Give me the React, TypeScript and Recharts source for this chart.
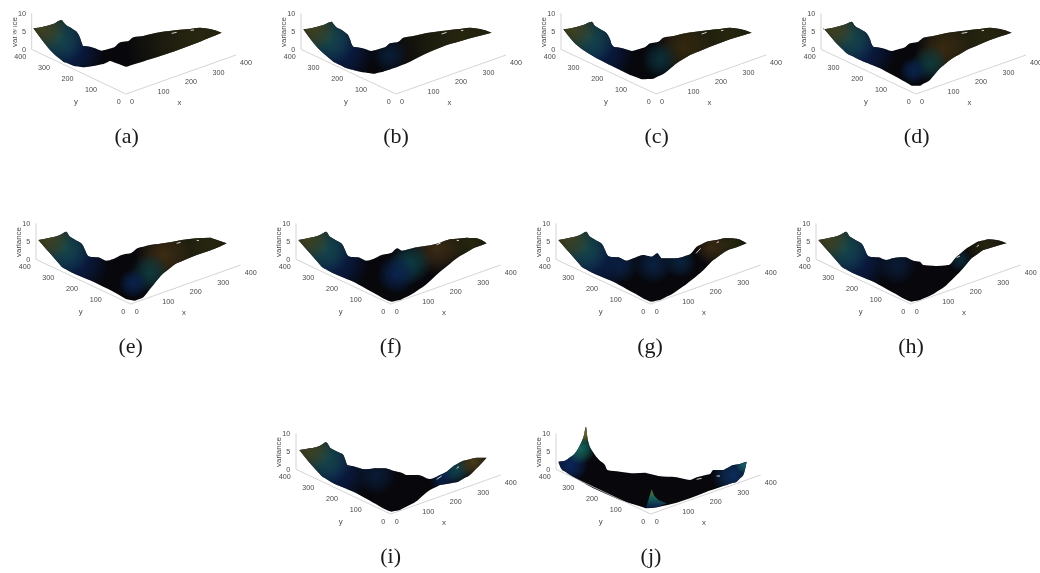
import React from "react";
import { ComposedChart, Area, Line, XAxis, YAxis } from "recharts";

type P = [number, number];
type Blob = [number, number, number, string];

const xyTicks = [0, 100, 200, 300, 400];
const zTicks = [0, 5, 10];

// silhouette edges (panel units: 1/3 px)
const aTop: P[] = [[100,85],[130,80],[160,72],[185,60],[195,72],[215,85],[232,98],[240,113],[245,128],[250,138],[270,140],[285,145],[305,152],[325,147],[345,140],[358,128],[385,123],[400,112],[430,108],[470,98],[515,92],[560,88],[600,83],[630,87],[665,98]];
const aBottom: P[] = [[100,85],[130,125],[160,160],[190,185],[220,197],[250,202],[280,198],[310,192],[330,183],[380,200],[450,178],[520,155],[600,125],[665,98]];
const bTop: P[] = [[130,88],[160,83],[190,75],[215,65],[225,78],[245,90],[262,103],[270,118],[275,133],[282,141],[300,143],[315,147],[335,153],[355,148],[375,142],[390,130],[415,125],[430,113],[460,108],[500,99],[545,93],[590,88],[630,83],[660,87],[695,98]];
const bBottom: P[] = [[130,88],[160,128],[190,160],[220,185],[260,205],[300,215],[340,221],[370,215],[400,205],[440,190],[500,160],[560,135],[630,115],[695,98]];
const cBottom: P[] = [[130,88],[160,125],[190,150],[230,175],[280,200],[330,225],[365,238],[395,237],[430,222],[470,190],[510,165],[570,140],[630,118],[695,98]];
const dBottom: P[] = [[133,88],[165,125],[200,160],[240,180],[300,205],[360,237],[395,257],[420,257],[450,240],[480,205],[510,180],[560,150],[630,120],[695,98]];
const eTop: P[] = [[115,90],[150,83],[180,75],[198,65],[210,80],[230,92],[248,105],[255,120],[262,135],[270,140],[295,142],[318,152],[340,147],[365,135],[395,128],[412,115],[450,105],[500,98],[545,90],[590,85],[630,83],[680,100]];
const eBottom: P[] = [[115,90],[150,130],[185,170],[220,190],[280,215],[340,245],[380,268],[405,272],[430,262],[460,225],[490,190],[530,160],[590,135],[640,118],[680,100]];
const fTop: P[] = [[115,90],[150,83],[180,75],[198,65],[210,80],[230,92],[248,105],[255,120],[262,135],[270,140],[295,142],[318,152],[340,147],[365,135],[395,128],[412,115],[425,122],[470,112],[515,105],[540,98],[570,88],[620,83],[650,85],[680,100]];
const fBottom: P[] = [[115,90],[150,130],[185,170],[220,190],[280,215],[340,248],[375,268],[395,275],[420,270],[460,250],[500,222],[540,185],[590,145],[640,115],[680,100]];
const gTop: P[] = [[115,90],[150,83],[180,75],[198,65],[210,80],[230,92],[248,105],[255,120],[262,135],[270,140],[295,142],[318,152],[345,143],[370,135],[395,140],[412,130],[425,145],[460,145],[490,140],[510,133],[530,110],[560,95],[590,90],[620,84],[650,86],[680,100]];
const gBottom: P[] = [[115,90],[150,130],[185,170],[220,190],[280,215],[340,248],[375,268],[395,275],[420,270],[460,250],[500,222],[540,190],[580,150],[620,122],[650,112],[680,100]];
const hTop: P[] = [[115,90],[150,83],[180,75],[198,65],[210,80],[230,92],[248,105],[255,120],[262,135],[270,140],[295,142],[318,150],[345,143],[375,142],[400,152],[420,155],[430,165],[470,168],[505,165],[530,140],[560,115],[590,97],[625,88],[650,90],[680,100]];
const hBottom: P[] = [[115,90],[150,130],[185,170],[220,190],[280,215],[340,248],[375,268],[395,275],[420,270],[460,252],[500,225],[540,185],[575,145],[610,120],[650,108],[680,100]];
const iTop: P[] = [[118,90],[150,85],[180,77],[198,67],[212,85],[235,97],[250,105],[256,120],[262,135],[285,140],[315,148],[345,145],[375,145],[400,152],[425,158],[440,165],[475,165],[510,177],[530,170],[560,155],[585,135],[610,122],[650,113],[680,113]];
const iBottom: P[] = [[118,90],[150,130],[185,168],[220,190],[280,215],[340,248],[375,268],[395,275],[420,270],[470,243],[510,210],[540,195],[590,187],[630,165],[660,135],[680,113]];
const jTop: P[] = [[115,125],[135,122],[160,105],[180,75],[192,45],[198,20],[202,50],[212,85],[225,105],[240,122],[255,135],[262,150],[300,155],[345,160],[375,158],[415,168],[470,172],[510,180],[530,172],[570,162],[580,150],[610,150],[640,135],[660,132],[680,125]];
const jBottom: P[] = [[115,125],[125,148],[150,165],[220,205],[300,240],[378,265],[410,262],[470,248],[510,235],[560,215],[620,195],[650,185],[670,165],[680,125]];
const jSpikeTop: P[] = [[378,264],[385,240],[395,208],[403,228],[415,240],[440,250]];
const jSpikeBottom: P[] = [[378,264],[410,262],[440,250]];

const leftBlobs = (L: number): Blob[] => [
  [L + 105, 150, 110, "#0a2050"],
  [L + 75, 112, 85, "#174a4c"],
  [L + 25, 80, 75, "#45431e"],
];

const aBlobs: Blob[] = [...leftBlobs(100), [600, 110, 230, "#2a2910"]];
const bBlobs: Blob[] = [...leftBlobs(130), [610, 110, 220, "#28280f"], [390, 165, 55, "#0a1e38"]];
const cBlobs: Blob[] = [...leftBlobs(130), [620, 110, 190, "#28280f"], [490, 140, 85, "#35290f"], [420, 178, 55, "#0c303a"]];
const dBlobs: Blob[] = [...leftBlobs(133), [620, 110, 180, "#28280f"], [490, 145, 85, "#3a2b12"], [450, 190, 55, "#0f3c3e"], [400, 212, 42, "#0a2450"]];
const eBlobs: Blob[] = [...leftBlobs(115), [620, 105, 170, "#28280f"], [490, 135, 85, "#3e2d14"], [450, 190, 60, "#0f3c40"], [400, 220, 45, "#0a2450"]];
const fBlobs: Blob[] = [...leftBlobs(115), [630, 95, 100, "#28280f"], [530, 115, 80, "#3e2d15"], [450, 160, 65, "#0f4046"], [410, 192, 60, "#0a2450"]];
const gBlobs: Blob[] = [...leftBlobs(115), [630, 100, 75, "#28280f"], [575, 112, 55, "#3a2a14"], [300, 162, 60, "#0a1f42"], [400, 162, 60, "#0a2244"], [480, 155, 50, "#0a2440"]];
const hBlobs: Blob[] = [...leftBlobs(115), [620, 105, 75, "#28260f"], [540, 150, 35, "#0c2a38"], [350, 165, 60, "#0a1c38"]];
const iBlobs: Blob[] = [...leftBlobs(118), [550, 170, 45, "#0a2450"], [590, 148, 45, "#114550"], [640, 125, 50, "#4c4018"], [350, 165, 60, "#0a1c38"]];
const jBlobs: Blob[] = [[150, 135, 55, "#0c2860"], [180, 85, 48, "#176a62"], [196, 38, 30, "#7a6c2a"], [640, 165, 65, "#0c3060"], [672, 135, 25, "#176068"]];

type AxisGeom = { o: P; xEnd: P; yEnd: P };
const axesA: AxisGeom = { o: [378, 282], xEnd: [708, 165], yEnd: [95, 148] };
const axesB: AxisGeom = { o: [408, 282], xEnd: [738, 165], yEnd: [123, 148] };
const axesE: AxisGeom = { o: [392, 282], xEnd: [722, 165], yEnd: [108, 148] };

type PanelDef = {
  letter: string; left: number; top: number; capX: number; axes: AxisGeom;
  upper: P[]; lower: P[]; blobs: Blob[]; specks: P[][];
  spike?: [P[], P[]];
};

const panels: PanelDef[] = [
  { letter: "(a)", left: 0, top: 0, capX: 380, axes: axesA, upper: aTop, lower: aBottom, blobs: aBlobs, specks: [[[515,100],[530,97]],[[572,91],[582,90]]] },
  { letter: "(b)", left: 260, top: 0, capX: 408, axes: axesB, upper: bTop, lower: bBottom, blobs: bBlobs, specks: [[[545,102],[560,97]],[[603,92],[610,91]]] },
  { letter: "(c)", left: 520, top: 0, capX: 410, axes: axesB, upper: bTop, lower: cBottom, blobs: cBlobs, specks: [[[545,102],[560,97]],[[603,92],[610,91]]] },
  { letter: "(d)", left: 780, top: 0, capX: 410, axes: axesB, upper: bTop, lower: dBottom, blobs: dBlobs, specks: [[[545,100],[562,97]],[[605,92],[612,91]]] },
  { letter: "(e)", left: 0, top: 210, capX: 392, axes: axesE, upper: eTop, lower: eBottom, blobs: eBlobs, specks: [[[530,100],[542,97]],[[590,91],[597,92]]] },
  { letter: "(f)", left: 260, top: 210, capX: 392, axes: axesE, upper: fTop, lower: fBottom, blobs: fBlobs, specks: [[[530,104],[542,99]],[[590,91],[597,92]]] },
  { letter: "(g)", left: 520, top: 210, capX: 390, axes: axesE, upper: gTop, lower: gBottom, blobs: gBlobs, specks: [[[528,130],[542,115]],[[590,98],[597,95]]] },
  { letter: "(h)", left: 780, top: 210, capX: 393, axes: axesE, upper: hTop, lower: hBottom, blobs: hBlobs, specks: [[[530,143],[540,138]],[[590,110],[597,105]]] },
  { letter: "(i)", left: 260, top: 420, capX: 392, axes: axesE, upper: iTop, lower: iBottom, blobs: iBlobs, specks: [[[530,178],[545,168]],[[590,145],[597,140]]] },
  { letter: "(j)", left: 520, top: 420, capX: 393, axes: axesE, upper: jTop, lower: jBottom, blobs: jBlobs, specks: [[[530,178],[545,175]],[[590,168],[600,168]]], spike: [jSpikeTop, jSpikeBottom] },
];

const W = 300, H = 190, DOMW = 900, DOMH = 570;
const TXT = "#4a4a4a";
const FONT = "'Liberation Sans', Arial, sans-serif";
const ZTOP = 40, ZZERO = 148;

// vertices of both edges at the union of their u positions: same polygon
const at = (pts: P[], u: number) => {
  for (let i = 1; i < pts.length; i++) {
    if (u <= pts[i][0]) {
      const [x0, y0] = pts[i - 1], [x1, y1] = pts[i];
      return y0 + ((u - x0) / (x1 - x0)) * (y1 - y0);
    }
  }
  return pts[pts.length - 1][1];
};
const band = (upper: P[], lower: P[]) => {
  const us = Array.from(new Set([...upper, ...lower].map((p) => p[0]))).sort((a, b) => a - b);
  return us.map((u) => ({ u, range: [at(lower, u), at(upper, u)] }));
};
const seg = (a: P, b: P, t: number, label: string) => ({ u: a[0] + (b[0] - a[0]) * t, v: a[1] + (b[1] - a[1]) * t, label });

const tickText = (dx: number, dy: number, anchor: "start" | "end" | "middle", fontSize = 7.2, fill = TXT, family = FONT, rotate = false) =>
  (p: any) => {
    const x = rotate ? Math.round(p.cx + dx / 3) : p.cx + dx / 3;
    const y = rotate ? Math.round(p.cy + dy / 3) : p.cy + dy / 3;
    return (
      <text key={p.index} x={x} y={y} textAnchor={anchor} dominantBaseline="central" fontSize={fontSize} fill={fill} fontFamily={family}
        transform={rotate ? `rotate(-90 ${x} ${y})` : undefined}>
        {p.payload.label}
      </text>
    );
  };

function Panel({ def, idx }: { def: PanelDef; idx: number }) {
  const { o, xEnd, yEnd } = def.axes;
  const data = band(def.upper, def.lower);
  const xAxis = xyTicks.map((t) => seg(o, xEnd, t / 400, String(t)));
  const yAxis = xyTicks.map((t) => seg(o, yEnd, t / 400, String(t)));
  const zAxis = zTicks.map((t) => ({ u: yEnd[0], v: ZZERO - (t / 10) * (ZZERO - ZTOP), label: String(t) }));
  const lineProps = { isAnimationActive: false, legendType: "none" as const, xAxisId: 0, yAxisId: 0, dataKey: "v" };
  const areaProps = { dataKey: "range", type: "monotoneX" as const, fillOpacity: 1, stroke: "none", isAnimationActive: false, legendType: "none" as const, dot: false, activeDot: false };
  return (
    <div style={{ position: "absolute", left: def.left, top: def.top, width: W, height: H, filter: "blur(0.45px)" }}>
      <ComposedChart width={W} height={H} margin={{ top: 0, right: 0, bottom: 0, left: 0 }}>
        <defs>
          {def.blobs.map((b, i) => (
            <radialGradient key={i} id={`g${idx}-${i}`} gradientUnits="userSpaceOnUse" cx={b[0] / 3} cy={b[1] / 3} r={b[2] / 3}>
              <stop offset="0" stopColor={b[3]} stopOpacity={0.95} />
              <stop offset="0.5" stopColor={b[3]} stopOpacity={0.6} />
              <stop offset="1" stopColor={b[3]} stopOpacity={0} />
            </radialGradient>
          ))}
          <linearGradient id={`s${idx}`} x1="0" y1="0" x2="0" y2="1">
            <stop offset="0" stopColor="#66702c" />
            <stop offset="0.45" stopColor="#186058" />
            <stop offset="1" stopColor="#0a1c48" />
          </linearGradient>
        </defs>
        <XAxis xAxisId={0} dataKey="u" type="number" domain={[0, DOMW]} hide allowDataOverflow />
        <YAxis yAxisId={0} type="number" domain={[0, DOMH]} reversed hide allowDataOverflow />
        <Line {...lineProps} data={xAxis} stroke="#c9c9c9" strokeWidth={0.8} dot={tickText(12, 22, "start")} />
        <Line {...lineProps} data={yAxis} stroke="#c9c9c9" strokeWidth={0.8} dot={tickText(-16, 21, "end")} />
        <Line {...lineProps} data={zAxis} stroke="#c9c9c9" strokeWidth={0.8} dot={tickText(-17, 0, "end")} />
        <Area {...areaProps} data={data} fill="#07070c" />
        {def.blobs.map((_, i) => (
          <Area key={i} {...areaProps} data={data} fill={`url(#g${idx}-${i})`} />
        ))}
        {def.spike && (
          <Area {...areaProps} type="linear" data={band(def.spike[0], def.spike[1])} fill={`url(#s${idx})`} />
        )}
        {def.specks.map((s, i) => (
          <Line key={i} {...lineProps} data={s.map((p) => ({ u: p[0], v: p[1] }))} stroke="#ffffff" strokeWidth={0.8} dot={false} />
        ))}
        <Line {...lineProps} data={[{ u: o[0] + 160, v: o[1] + 25, label: "x" }]} stroke="none" dot={tickText(0, 0, "middle", 7.8)} />
        <Line {...lineProps} data={[{ u: o[0] - 150, v: o[1] + 21, label: "y" }]} stroke="none" dot={tickText(0, 0, "middle", 7.8)} />
        <Line {...lineProps} data={[{ u: yEnd[0] - 54, v: 95, label: "variance" }]} stroke="none" dot={tickText(0, 0, "middle", 7.9, TXT, FONT, true)} />
        <Line {...lineProps} data={[{ u: def.capX, v: 407, label: def.letter }]} stroke="none" dot={tickText(0, 0, "middle", 22, "#1a1a1a", "'Liberation Serif', serif")} />
      </ComposedChart>
    </div>
  );
}

export default function App() {
  return (
    <div style={{ position: "absolute", left: 0, top: 0, width: 1040, height: 573, overflow: "hidden", background: "#fff" }}>
      {panels.map((d, i) => <Panel key={d.letter} def={d} idx={i} />)}
    </div>
  );
}
